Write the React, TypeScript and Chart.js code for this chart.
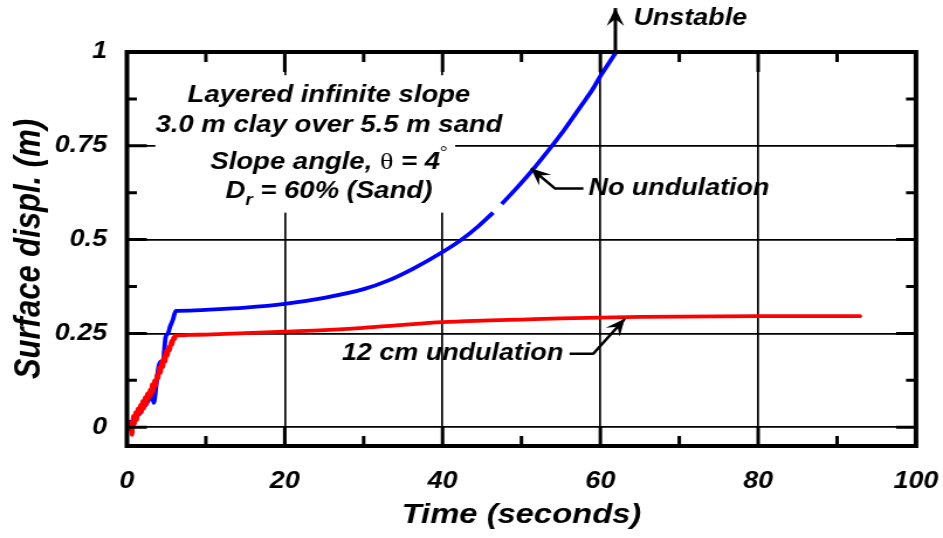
import { useEffect, useRef } from "react";
import { Chart, registerables } from "chart.js";

Chart.register(...registerables);

// ---- data ----
const undulationT = [0, 0.2, 0.35, 0.5, 0.65, 0.8, 0.95, 1.1, 1.25, 1.4, 1.55, 1.7, 1.85, 2.0, 2.15, 2.3, 2.45, 2.6, 2.75, 2.9, 3.05, 3.2, 3.35, 3.5, 3.65, 3.8, 3.95, 4.1, 4.25, 4.4, 4.55, 4.7, 4.85, 5.0, 5.15, 5.3, 5.45, 5.6, 5.75, 5.9, 6.05, 6.2, 6.4, 8, 10, 15, 20, 25, 30, 35, 40, 45, 50, 55, 60, 65, 70, 80, 92.9];
const undulationD = [0, 0.015, -0.005, 0.01, -0.02, 0.03, 0.01, 0.04, 0.02, 0.05, 0.035, 0.06, 0.04, 0.07, 0.05, 0.08, 0.06, 0.09, 0.075, 0.1, 0.085, 0.115, 0.095, 0.125, 0.11, 0.14, 0.13, 0.16, 0.145, 0.175, 0.16, 0.19, 0.175, 0.205, 0.19, 0.215, 0.205, 0.23, 0.22, 0.24, 0.235, 0.245, 0.245, 0.246, 0.247, 0.251, 0.255, 0.259, 0.265, 0.273, 0.28, 0.284, 0.287, 0.29, 0.292, 0.294, 0.295, 0.296, 0.296];

const noUndulationT = [0, 0.4, 0.8, 1.2, 1.6, 2.0, 2.4, 2.8, 3.1, 3.4, 3.7, 4.0, 4.3, 4.6, 4.9, 5.2, 5.5, 5.8, 6.2, 8, 10, 15, 20, 25, 30, 33, 36.3, 40, 42.4, 44.5, 46.4, 46.9, 47.5, 49.5, 51.5, 53.5, 55.5, 57.5, 59, 60, 61, 62];
const noUndulationD = [0, 0.015, 0.005, 0.03, 0.035, 0.05, 0.06, 0.075, 0.09, 0.065, 0.11, 0.16, 0.175, 0.18, 0.24, 0.25, 0.27, 0.285, 0.31, 0.311, 0.313, 0.319, 0.329, 0.345, 0.368, 0.39, 0.423, 0.467, 0.5, 0.535, 0.572, null, 0.595, 0.64, 0.688, 0.74, 0.795, 0.855, 0.9, 0.936, 0.968, 1.0];

const xTicks = [0, 20, 40, 60, 80, 100];
const xTickLabels = ["0", "20", "40", "60", "80", "100"];
const xMinorTicks = [10, 30, 50, 70, 90];
const yTicks = [0, 0.25, 0.5, 0.75, 1];
const yTickLabels = ["0", "0.25", "0.5", "0.75", "1"];
const yMinorTicks = [0.125, 0.375, 0.625, 0.875];

const infoLines = ["Layered infinite slope", "3.0 m clay over 5.5 m sand"];

// ---- layout ----
const W = 943;
const H = 538;
const CW = 806; // internal canvas width, displayed stretched to W
const FONT = '"Liberation Sans", Arial, Helvetica, sans-serif';
const SERIF = '"Liberation Serif", "Times New Roman", serif';

function drawArrow(ctx: CanvasRenderingContext2D, pts: number[][], head = 17, half = 7.5) {
  ctx.beginPath();
  ctx.moveTo(pts[0][0], pts[0][1]);
  for (let i = 1; i < pts.length; i++) ctx.lineTo(pts[i][0], pts[i][1]);
  ctx.stroke();
  const [tx, ty] = pts[pts.length - 1];
  const [px, py] = pts[pts.length - 2];
  const len = Math.hypot(tx - px, ty - py);
  const dx = (tx - px) / len, dy = (ty - py) / len;
  const nx = -dy, ny = dx;
  ctx.beginPath();
  ctx.moveTo(tx, ty);
  ctx.lineTo(tx - dx * head + nx * half, ty - dy * head + ny * half);
  ctx.lineTo(tx - dx * head * 0.6, ty - dy * head * 0.6);
  ctx.lineTo(tx - dx * head - nx * half, ty - dy * head - ny * half);
  ctx.closePath();
  ctx.fill();
}

const deco = {
  id: "deco",
  beforeDatasetsDraw(chart: any) {
    const { ctx, scales } = chart;
    const x = scales.x, y = scales.y;
    const x0 = x.getPixelForValue(3.6), x1 = x.getPixelForValue(41.6);
    const y0 = y.getPixelForValue(0.938), y1 = y.getPixelForValue(0.572);
    ctx.save();
    ctx.fillStyle = "#ffffff";
    ctx.fillRect(x0, y0, x1 - x0, y1 - y0);
    ctx.restore();
  },
  afterDraw(chart: any) {
    const { ctx, chartArea: a, scales } = chart;
    const x = scales.x, y = scales.y;
    ctx.save();
    ctx.strokeStyle = "#000";
    ctx.fillStyle = "#000";
    // inward ticks
    ctx.lineWidth = 3;
    ctx.lineCap = "butt";
    const hTick = (v: number, len: number) => {
      const py = y.getPixelForValue(v);
      ctx.beginPath();
      ctx.moveTo(a.left, py); ctx.lineTo(a.left + len, py);
      ctx.moveTo(a.right, py); ctx.lineTo(a.right - len, py);
      ctx.stroke();
    };
    const vTick = (v: number, len: number) => {
      const px = x.getPixelForValue(v);
      ctx.beginPath();
      ctx.moveTo(px, a.bottom); ctx.lineTo(px, a.bottom - len);
      ctx.moveTo(px, a.top); ctx.lineTo(px, a.top + len);
      ctx.stroke();
    };
    yTicks.slice(0, 4).forEach((v) => hTick(v, 17));
    yMinorTicks.forEach((v) => hTick(v, 8.5));
    xTicks.slice(1, 5).forEach((v) => vTick(v, 20));
    xMinorTicks.forEach((v) => vTick(v, 10));
    // frame
    ctx.lineWidth = 4;
    ctx.lineJoin = "miter";
    ctx.strokeRect(a.left, a.top, a.right - a.left, a.bottom - a.top);

    // info text block
    const cx = x.getPixelForValue(25.6);
    const bf = (s: number) => `italic bold ${s}px ${FONT}`;
    ctx.textBaseline = "alphabetic";
    ctx.textAlign = "center";
    ctx.font = bf(23.5);
    ctx.fillText(infoLines[0], cx, y.getPixelForValue(0.867));
    ctx.fillText(infoLines[1], cx, y.getPixelForValue(0.787));

    // line 3: Slope angle, θ = 4°
    ctx.textAlign = "left";
    const b3 = y.getPixelForValue(0.689);
    const segs3 = [
      { t: "Slope angle, ", f: bf(23.5), dy: 0 },
      { t: "\u03b8", f: `24px ${SERIF}`, dy: 0 },
      { t: " = 4", f: bf(23.5), dy: 0 },
      { t: "\u00b0", f: `16px ${SERIF}`, dy: -12 },
    ];
    let tot = 0;
    segs3.forEach((s) => { ctx.font = s.f; tot += ctx.measureText(s.t).width; });
    let sx = cx - tot / 2;
    segs3.forEach((s) => { ctx.font = s.f; ctx.fillText(s.t, sx, b3 + s.dy); sx += ctx.measureText(s.t).width; });

    // line 4: D_r = 60% (Sand)
    const b4 = y.getPixelForValue(0.612);
    const segs4 = [
      { t: "D", f: bf(23.5), dy: 0 },
      { t: "r", f: bf(16), dy: 7 },
      { t: " = 60% (Sand)", f: bf(23.5), dy: 0 },
    ];
    tot = 0;
    segs4.forEach((s) => { ctx.font = s.f; tot += ctx.measureText(s.t).width; });
    sx = cx - tot / 2;
    segs4.forEach((s) => { ctx.font = s.f; ctx.fillText(s.t, sx, b4 + s.dy); sx += ctx.measureText(s.t).width; });

    // annotations
    ctx.lineWidth = 2.5;
    ctx.lineJoin = "round";
    const P = (tx: number, dv: number) => [x.getPixelForValue(tx), y.getPixelForValue(dv)];
    // No undulation
    drawArrow(ctx, [P(57.85, 0.636), P(54.27, 0.636), P(51.2, 0.69)]);
    ctx.font = bf(23);
    ctx.textBaseline = "middle";
    ctx.textAlign = "left";
    let p = P(58.5, 0.636);
    ctx.fillText("No undulation", p[0], p[1]);
    // 12 cm undulation
    drawArrow(ctx, [P(56.1, 0.196), P(59.1, 0.196), P(63.1, 0.289)]);
    ctx.textAlign = "right";
    p = P(55.3, 0.196);
    ctx.fillText("12 cm undulation", p[0], p[1]);
    // Unstable
    ctx.lineWidth = 3;
    drawArrow(ctx, [P(61.9, 1.0), P(61.9, 1.117)], 18, 7.5);
    ctx.textAlign = "left";
    p = P(64.2, 1.089);
    ctx.fillText("Unstable", p[0], p[1]);
    ctx.restore();
  },
};

export default function App() {
  const ref = useRef<HTMLCanvasElement | null>(null);

  useEffect(() => {
    if (!ref.current) return;
    const tickFont = { family: FONT, size: 23, style: "italic" as const, weight: "bold" as const };
    const chart = new Chart(ref.current, {
      type: "line",
      data: {
        datasets: [
          {
            label: "12 cm undulation",
            data: undulationT.map((t, i) => ({ x: t, y: undulationD[i] })),
            borderColor: "#ff0000",
            borderWidth: 3.8,
            pointRadius: 0,
            cubicInterpolationMode: "monotone",
            borderJoinStyle: "round",
            borderCapStyle: "round",
            fill: false,
          },
          {
            label: "No undulation",
            data: noUndulationT.map((t, i) => ({ x: t, y: noUndulationD[i] })),
            borderColor: "#0000ff",
            borderWidth: 3.8,
            pointRadius: 0,
            cubicInterpolationMode: "monotone",
            borderJoinStyle: "round",
            borderCapStyle: "butt",
            spanGaps: false,
            fill: false,
          },
        ],
      },
      options: {
        responsive: false,
        maintainAspectRatio: false,
        animation: false,
        devicePixelRatio: 1,
        layout: { padding: { top: 52, right: CW - 782.9, left: 0, bottom: 0 } },
        plugins: { legend: { display: false }, tooltip: { enabled: false } },
        scales: {
          x: {
            type: "linear",
            min: 0,
            max: 100,
            afterBuildTicks: (s: any) => { s.ticks = xTicks.map((v) => ({ value: v })); },
            afterFit: (s: any) => { s.height = 92; s.paddingLeft = 0; s.paddingRight = 0; },
            grid: { color: "#000", lineWidth: 1.7, drawTicks: false },
            border: { display: false },
            ticks: {
              padding: 22,
              color: "#000",
              font: tickFont,
              maxRotation: 0,
              autoSkip: false,
              callback: (_v: any, i: number) => xTickLabels[i],
            },
            title: {
              display: true,
              text: "Time (seconds)",
              color: "#000",
              font: { family: FONT, size: 28, style: "italic", weight: "bold" },
              padding: { top: 0, bottom: 6 },
            },
          },
          y: {
            type: "linear",
            min: -0.05,
            max: 1,
            afterBuildTicks: (s: any) => { s.ticks = yTicks.map((v) => ({ value: v })); },
            afterFit: (s: any) => { s.width = 108.5; s.paddingTop = 0; s.paddingBottom = 0; },
            grid: { color: "#000", lineWidth: 1.7, drawTicks: false },
            border: { display: false },
            ticks: {
              padding: 17,
              color: "#000",
              font: tickFont,
              autoSkip: false,
              callback: (_v: any, i: number) => yTickLabels[i],
            },
            title: {
              display: true,
              text: "Surface displ. (m)",
              color: "#000",
              font: { family: FONT, size: 31, style: "italic", weight: "bold" },
              padding: { top: 7, bottom: 0 },
            },
          },
        },
      },
      plugins: [deco],
    });
    return () => chart.destroy();
  }, []);

  return (
    <div style={{ position: "fixed", left: 0, top: 0, width: W, height: H, background: "#fff" }}>
      <canvas ref={ref} width={CW} height={H} style={{ width: `${W}px`, height: `${H}px`, display: "block" }} />
    </div>
  );
}
